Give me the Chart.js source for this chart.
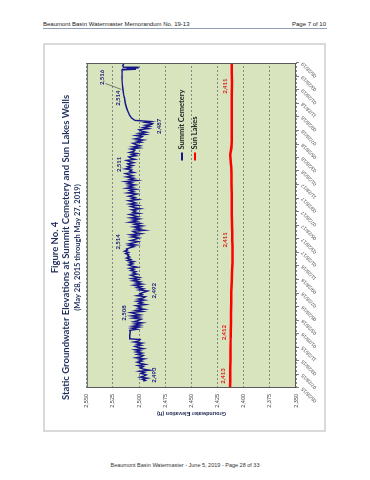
<!DOCTYPE html>
<html>
<head>
<meta charset="utf-8">
<title>Figure No. 4</title>
<script src="https://cdn.jsdelivr.net/npm/chart.js@4.4.1/dist/chart.umd.min.js"></script>
<style>
  html, body { margin: 0; padding: 0; background: #fff; }
  body { width: 370px; height: 480px; position: relative; overflow: hidden; font-family: 'Liberation Sans', Arial, sans-serif; }
  .hdr { position: absolute; top: 21px; font-size: 6px; line-height: 6px; color: #222; white-space: nowrap; }
  #hdrLeft { left: 43px; }
  #hdrRight { right: 44px; }
  .rule { position: absolute; left: 43px; top: 28px; width: 284px; border-top: 1px solid #8fa0b8; }
  .frame { position: absolute; left: 43px; top: 43px; width: 283px; height: 389px; border: 2px solid #d9d9d9; box-sizing: border-box; }
  #wrap { position: absolute; left: -10px; top: 97px; width: 389px; height: 281px; transform: rotate(-90deg); transform-origin: 50% 50%; }
  .ftr { position: absolute; top: 462px; left: 0; width: 370px; text-align: center; font-size: 5.5px; line-height: 6px; color: #333; }
</style>
</head>
<body>
<div class="hdr" id="hdrLeft">Beaumont Basin Watermaster Memorandum No. 19-13</div>
<div class="hdr" id="hdrRight">Page 7 of 10</div>
<div class="rule"></div>
<div class="frame"></div>
<div id="wrap"><canvas id="myChart" width="389" height="281"></canvas></div>
<div class="ftr">Beaumont Basin Watermaster - June 5, 2019 - Page 28 of 33</div>
<script>
// tick labels on the date axis (every two months)
var tickLabels = ['05/28/15', '07/28/15', '09/28/15', '11/28/15', '01/28/16', '03/28/16', '05/28/16',
  '07/28/16', '09/28/16', '11/28/16', '01/28/17', '03/28/17', '05/28/17', '07/28/17', '09/28/17',
  '11/28/17', '01/28/18', '03/28/18', '05/28/18', '07/28/18', '09/28/18', '11/28/18', '01/28/19',
  '03/28/19', '05/28/19'];

var elevationTicks = [2350, 2375, 2400, 2425, 2450, 2475, 2500, 2525, 2550];

// Summit Cemetery well
var summitDates = [
  '2015-06-28',
  '2015-07-01', '2015-07-06', '2015-07-11', '2015-07-16', '2015-07-21', '2015-07-26',
  '2015-08-01', '2015-08-06', '2015-08-11', '2015-08-16', '2015-08-21', '2015-08-26',
  '2015-09-01', '2015-09-06', '2015-09-11', '2015-09-16', '2015-09-21', '2015-09-26',
  '2015-10-01', '2015-10-06', '2015-10-11', '2015-10-16', '2015-10-21', '2015-10-26',
  '2015-11-01', '2015-11-06', '2015-11-11', '2015-11-16', '2015-11-21', '2015-11-26',
  '2015-12-01', '2015-12-06', '2015-12-11', '2015-12-16', '2015-12-21', '2015-12-26',
  '2016-01-01', '2016-01-04', '2016-01-20', '2016-02-06',
  '2016-02-11', '2016-02-16', '2016-02-21', '2016-02-26',
  '2016-03-01', '2016-03-06', '2016-03-11', '2016-03-16', '2016-03-21', '2016-03-26',
  '2016-04-01', '2016-04-06', '2016-04-11', '2016-04-16', '2016-04-21', '2016-04-26',
  '2016-05-01', '2016-05-06', '2016-05-11', '2016-05-16', '2016-05-21', '2016-05-26',
  '2016-06-01', '2016-06-06', '2016-06-11', '2016-06-16', '2016-06-21', '2016-06-26',
  '2016-07-01', '2016-07-06', '2016-07-11', '2016-07-16', '2016-07-21', '2016-07-26',
  '2016-08-01', '2016-08-06', '2016-08-11', '2016-08-16', '2016-08-21', '2016-08-26',
  '2016-09-01', '2016-09-06', '2016-09-11', '2016-09-16', '2016-09-21', '2016-09-26',
  '2016-10-01', '2016-10-06', '2016-10-11', '2016-10-16', '2016-10-21', '2016-10-26',
  '2016-11-01', '2016-11-06', '2016-11-11', '2016-11-16', '2016-11-21', '2016-11-26',
  '2016-12-01', '2016-12-06', '2016-12-11', '2016-12-16', '2016-12-21', '2016-12-26',
  '2017-01-01', '2017-01-06', '2017-01-11', '2017-01-16', '2017-01-21', '2017-01-26',
  '2017-02-01', '2017-02-06', '2017-02-11', '2017-02-16', '2017-02-21', '2017-02-26',
  '2017-03-01', '2017-03-06', '2017-03-11', '2017-03-16', '2017-03-21', '2017-03-26',
  '2017-04-01', '2017-04-06', '2017-04-11', '2017-04-16', '2017-04-21', '2017-04-26',
  '2017-05-01', '2017-05-06', '2017-05-11', '2017-05-16', '2017-05-21', '2017-05-26',
  '2017-06-01', '2017-06-06', '2017-06-11', '2017-06-16', '2017-06-21', '2017-06-26',
  '2017-07-01', '2017-07-06', '2017-07-11', '2017-07-16', '2017-07-21', '2017-07-26',
  '2017-08-01', '2017-08-06', '2017-08-11', '2017-08-16', '2017-08-21', '2017-08-26',
  '2017-09-01', '2017-09-06', '2017-09-11', '2017-09-16', '2017-09-21', '2017-09-26',
  '2017-10-01', '2017-10-06', '2017-10-11', '2017-10-16', '2017-10-21', '2017-10-26',
  '2017-11-01', '2017-11-06', '2017-11-11', '2017-11-16', '2017-11-21', '2017-11-26',
  '2017-12-01', '2017-12-06', '2017-12-11', '2017-12-16', '2017-12-21', '2017-12-26',
  '2018-01-01', '2018-01-06', '2018-01-11', '2018-01-16', '2018-01-21', '2018-01-26',
  '2018-02-01', '2018-02-06', '2018-02-11', '2018-02-16', '2018-02-21', '2018-02-26',
  '2018-03-01', '2018-03-06', '2018-03-11', '2018-03-16', '2018-03-21', '2018-03-26',
  '2018-04-01', '2018-04-06', '2018-04-11', '2018-04-16', '2018-04-21', '2018-04-26',
  '2018-05-01', '2018-05-06', '2018-05-11', '2018-05-16', '2018-05-21', '2018-05-26',
  '2018-06-01', '2018-06-06', '2018-06-11', '2018-06-16', '2018-06-21', '2018-06-26',
  '2018-07-01', '2018-07-06', '2018-07-11', '2018-07-16', '2018-07-21', '2018-07-26',
  '2018-08-01', '2018-08-06', '2018-08-11', '2018-08-16', '2018-08-21', '2018-08-25', '2018-08-29',
  '2018-09-03', '2018-09-07', '2018-09-12', '2018-09-22',
  '2018-10-05', '2018-10-20', '2018-11-05', '2018-11-20',
  '2018-12-05', '2018-12-21', '2019-01-05', '2019-01-20',
  '2019-02-05', '2019-02-20', '2019-03-07', '2019-03-24', '2019-04-10', '2019-04-27',
  '2019-04-30', '2019-05-03', '2019-05-06', '2019-05-09', '2019-05-15', '2019-05-21', '2019-05-27'
];
var summitValues = [
  2496,
  2494, 2497, 2492, 2499, 2495, 2493,
  2498, 2495, 2500, 2490, 2496, 2499,
  2496, 2501, 2494, 2499, 2502, 2497,
  2500, 2495, 2503, 2498, 2496, 2502,
  2497, 2503, 2499, 2504, 2496, 2501,
  2504, 2498, 2502, 2497, 2505, 2500,
  2499, 2509, 2509, 2508.5,
  2509, 2502, 2507, 2500,
  2506, 2499, 2504, 2497, 2505, 2501,
  2498, 2506, 2500, 2507, 2499, 2504,
  2508, 2497, 2503, 2495, 2501, 2498,
  2503, 2494, 2500, 2497, 2502, 2495,
  2501, 2496, 2494, 2502, 2497, 2499,
  2495, 2492, 2500, 2496, 2502, 2498,
  2505, 2497, 2503, 2499, 2506, 2501,
  2507, 2500, 2505, 2508, 2502, 2506,
  2503, 2508, 2505, 2509, 2502, 2507,
  2510, 2506, 2509, 2505, 2511, 2508,
  2512, 2509, 2511, 2510, 2513, 2510,
  2514, 2511, 2512, 2509, 2505, 2509,
  2503, 2510, 2505, 2501, 2508, 2504,
  2500, 2507, 2502, 2508, 2498, 2504,
  2506, 2495, 2503, 2499, 2505, 2497,
  2504, 2499, 2509, 2502, 2506, 2500,
  2508, 2501, 2505, 2509, 2500, 2506,
  2503, 2507, 2499, 2505, 2508, 2501,
  2509, 2503, 2506, 2510, 2501, 2507,
  2504, 2510, 2506, 2502, 2511, 2505,
  2509, 2503, 2512, 2506, 2510, 2504,
  2511, 2507, 2513, 2502, 2509, 2505,
  2512, 2506, 2510, 2513, 2505, 2509,
  2507, 2513, 2508, 2511, 2506, 2510,
  2511, 2505, 2509, 2512, 2504, 2508,
  2510, 2503, 2507, 2502, 2509, 2505,
  2504, 2508, 2500, 2506, 2499, 2503,
  2506, 2498, 2502, 2496, 2504, 2499,
  2497, 2503, 2494, 2500, 2493, 2498,
  2500, 2491, 2496, 2490, 2494, 2488, 2487,
  2494, 2489, 2504, 2507,
  2509, 2510.5, 2511.8, 2512.8,
  2513.5, 2514, 2514.8, 2515.2,
  2515.6, 2516, 2516.2, 2516.3, 2516.2, 2516.4,
  2503, 2512, 2501, 2515, 2515.6, 2515, 2515.4
];

// Sun Lakes well
var sunLakesDates = ['2015-05-28', '2015-07-25', '2015-10-01', '2016-01-01', '2016-02-01', '2016-05-01',
  '2016-08-01', '2016-11-01', '2017-01-15', '2017-03-20', '2017-06-01', '2017-09-01', '2017-12-01',
  '2018-02-15', '2018-04-10', '2018-05-20', '2018-08-01', '2018-11-01', '2019-03-01', '2019-05-27'];
var sunLakesValues = [2413, 2412.9, 2412.7, 2412.5, 2412.4, 2412.1,
  2411.8, 2411.1, 2410.6, 2410.9, 2411.2, 2411.4, 2411.6,
  2412.0, 2412.8, 2411.7, 2411.5, 2411.4, 2411.3, 2411.4];

// values written on the chart
var summitNoteDates = ['2015-07-25', '2016-04-29', '2016-08-07', '2017-03-15', '2018-02-26', '2018-08-16', '2018-12-21', '2019-03-24'];
var summitNoteValues = [2493, 2508, 2492, 2514, 2511, 2487, 2514, 2516];
var sunLakesNoteDates = ['2015-07-21', '2016-02-01', '2017-03-24', '2019-02-13'];
var sunLakesNoteValues = [2413, 2412, 2411, 2411];

var fontFamily = "Lato, 'Open Sans', sans-serif";
var navy = '#16168a';
var red = '#ff0000';

var startTime = Date.UTC(2015, 4, 28);
function dayOf(iso) {
  var p = iso.split('-');
  return (Date.UTC(+p[0], +p[1] - 1, +p[2]) - startTime) / 86400000;
}
function labelDay(lbl) {
  var p = lbl.split('/');
  return dayOf('20' + p[2] + '-' + p[0] + '-' + p[1]);
}
function points(dates, values) {
  return dates.map(function (d, i) { return { x: dayOf(d), y: values[i] }; });
}

// green plot area and its border
var plotFrame = {
  id: 'plotFrame',
  beforeDraw: function (chart) {
    var a = chart.chartArea, ctx = chart.ctx;
    ctx.save();
    ctx.fillStyle = '#d7e4bd';
    ctx.fillRect(a.left, a.top, a.right - a.left, a.bottom - a.top);
    ctx.restore();
  },
  afterDatasetsDraw: function (chart) {
    var a = chart.chartArea, ctx = chart.ctx;
    ctx.save();
    ctx.strokeStyle = '#5a5a5a';
    ctx.lineWidth = 1;
    ctx.strokeRect(a.left + 0.5, a.top + 0.5, a.right - a.left - 1, a.bottom - a.top - 1);
    ctx.restore();
  }
};

// value labels next to the lines
var valueNotes = {
  id: 'valueNotes',
  afterDatasetsDraw: function (chart) {
    var ctx = chart.ctx, xs = chart.scales.x, ys = chart.scales.y;
    var groups = [
      { dates: summitNoteDates, values: summitNoteValues, shift: [8, -7, 7, -6, -9, 6, -6, -20], color: '#1c1c78' },
      { dates: sunLakesNoteDates, values: sunLakesNoteValues, shift: [-7, -7, -7, -7], color: '#e31a1a' }
    ];
    ctx.save();
    ctx.font = 'bold 6px ' + fontFamily;
    ctx.textAlign = 'center';
    ctx.textBaseline = 'middle';
    groups.forEach(function (g) {
      g.dates.forEach(function (d, i) {
        var px = xs.getPixelForValue(dayOf(d));
        var py = ys.getPixelForValue(g.values[i]);
        var ty = py + g.shift[i];
        if (Math.abs(g.shift[i]) > 12) {
          ctx.strokeStyle = '#333';
          ctx.lineWidth = 0.6;
          ctx.beginPath();
          ctx.moveTo(px - 6, ty + 3);
          ctx.lineTo(px - 12, py - 1);
          ctx.stroke();
        }
        ctx.fillStyle = g.color;
        ctx.fillText(g.values[i].toLocaleString('en-US'), px, ty);
      });
    });
    ctx.restore();
  }
};

// legend drawn inside the plot area
var insideLegend = {
  id: 'insideLegend',
  afterDraw: function (chart) {
    var a = chart.chartArea, ctx = chart.ctx;
    var x0 = a.left + (a.right - a.left) * 0.70;
    var y0 = a.top + (a.bottom - a.top) * 0.455;
    ctx.save();
    ctx.font = 'bold 7.5px ' + fontFamily;
    ctx.textAlign = 'left';
    ctx.textBaseline = 'middle';
    chart.data.datasets.forEach(function (ds, i) {
      var y = y0 + i * 13;
      ctx.strokeStyle = ds.borderColor;
      ctx.lineWidth = 2;
      ctx.beginPath();
      ctx.moveTo(x0, y);
      ctx.lineTo(x0 + 8, y);
      ctx.stroke();
      ctx.fillStyle = '#222';
      ctx.fillText(ds.label, x0 + 11, y);
    });
    ctx.restore();
  }
};

var ctx = document.getElementById('myChart').getContext('2d');
var myChart = new Chart(ctx, {
  type: 'line',
  data: {
    datasets: [{
      label: 'Summit Cemetery',
      data: points(summitDates, summitValues),
      borderColor: navy,
      borderWidth: 1.4,
      pointRadius: 0,
      tension: 0
    }, {
      label: 'Sun Lakes',
      data: points(sunLakesDates, sunLakesValues),
      borderColor: red,
      borderWidth: 2.5,
      pointRadius: 0,
      tension: 0.3
    }]
  },
  options: {
    responsive: false,
    animation: false,
    events: [],
    layout: { padding: { right: 20 } },
    scales: {
      x: {
        type: 'linear',
        min: 0,
        max: labelDay(tickLabels[tickLabels.length - 1]),
        afterBuildTicks: function (s) {
          s.ticks = tickLabels.map(function (t) { return { value: labelDay(t) }; });
        },
        afterFit: function (s) { s.height = 29; },
        ticks: {
          autoSkip: false,
          minRotation: 45,
          maxRotation: 45,
          padding: 1,
          color: '#4a4a4a',
          font: { family: "'Liberation Sans', Arial, sans-serif", size: 5 },
          callback: function (v, i) { return tickLabels[i]; }
        },
        grid: { display: true, drawOnChartArea: false, tickLength: 3, color: '#7f7f7f' },
        border: { display: false }
      },
      y: {
        min: elevationTicks[0],
        max: elevationTicks[elevationTicks.length - 1],
        afterBuildTicks: function (s) {
          s.ticks = elevationTicks.map(function (v) { return { value: v }; });
        },
        afterFit: function (s) { s.width = 44; },
        ticks: {
          padding: 6,
          color: '#4a4a4a',
          font: { family: "'Liberation Sans', Arial, sans-serif", size: 5.5 },
          callback: function (v) { return v.toLocaleString('en-US'); }
        },
        grid: { color: '#6f6f6f', lineWidth: 0.8, drawTicks: false },
        border: { display: false, dash: [2, 2] },
        title: {
          display: true,
          text: 'Groundwater Elevation (ft)',
          color: '#1f2a55',
          font: { family: "'Liberation Sans', Arial, sans-serif", size: 5.5, weight: 'bold' },
          padding: { top: 15, bottom: 0 }
        }
      }
    },
    plugins: {
      legend: { display: false },
      tooltip: { enabled: false },
      title: {
        display: true,
        text: ['Figure No. 4', 'Static Groundwater Elevations at Summit Cemetery and Sun Lakes Wells'],
        color: '#1f2f5c',
        font: { family: fontFamily, size: 9.5, weight: 'bold', lineHeight: 1.2 },
        padding: { top: 5, bottom: 0 }
      },
      subtitle: {
        display: true,
        text: '(May 28, 2015 through May 27, 2019)',
        color: '#1f2f5c',
        font: { family: fontFamily, size: 7.5, weight: 'bold', lineHeight: 1.2 },
        padding: { top: 1, bottom: 5 }
      }
    }
  },
  plugins: [plotFrame, valueNotes, insideLegend]
});
</script>
</body>
</html>
